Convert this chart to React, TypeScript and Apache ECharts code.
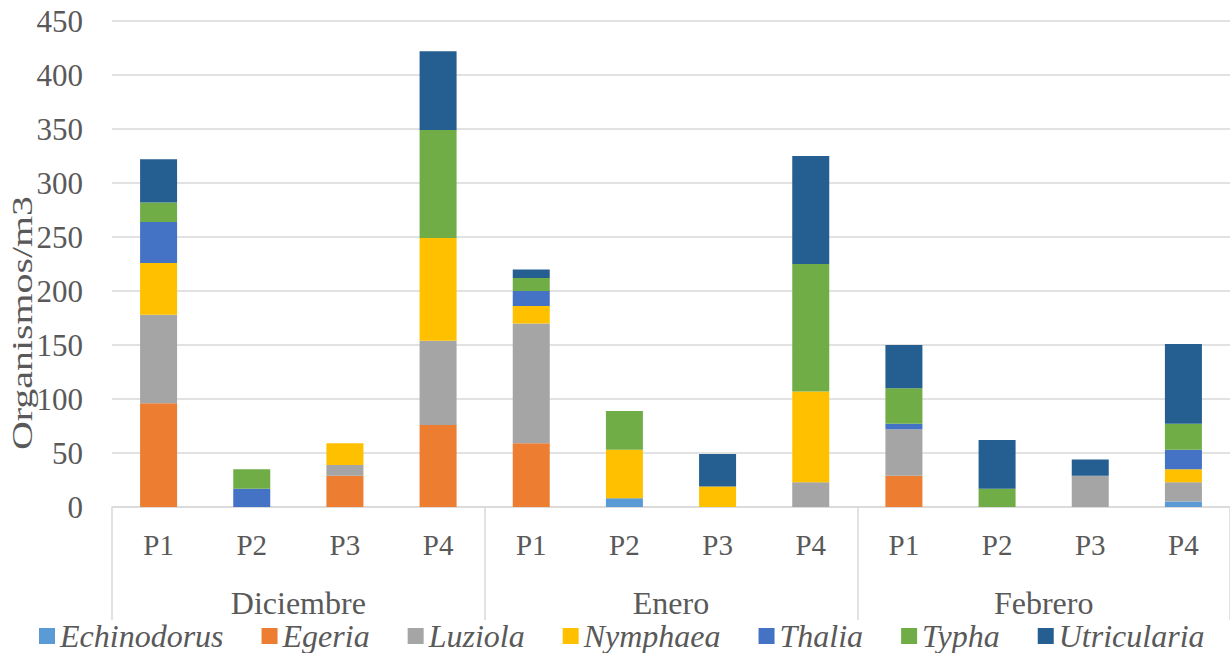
import React, { useEffect, useRef } from "react";
import * as echarts from "echarts";

const months = ["Diciembre", "Enero", "Febrero"];
const points = ["P1", "P2", "P3", "P4"];
const yTicks = { min: 0, max: 450, interval: 50 };
const yAxisTitle = "Organismos/m3";

const speciesNames = ["Echinodorus", "Egeria", "Luziola", "Nymphaea", "Thalia", "Typha", "Utricularia"];
const speciesColors = ["#5B9BD5", "#ED7D31", "#A5A5A5", "#FFC000", "#4472C4", "#70AD47", "#255E91"];

const echinodorus = [0, 0, 0, 0, 0, 8, 0, 0, 0, 0, 0, 5];
const egeria = [96, 0, 29, 76, 59, 0, 0, 0, 29, 0, 0, 0];
const luziola = [82, 0, 10, 78, 111, 0, 0, 23, 43, 0, 29, 18];
const nymphaea = [48, 0, 20, 95, 16, 45, 19, 84, 0, 0, 0, 12];
const thalia = [38, 17, 0, 0, 14, 0, 0, 0, 5, 0, 0, 18];
const typha = [18, 18, 0, 100, 12, 36, 0, 118, 33, 17, 0, 24];
const utricularia = [40, 0, 0, 73, 8, 0, 30, 100, 40, 45, 15, 74];

const seriesValues = [echinodorus, egeria, luziola, nymphaea, thalia, typha, utricularia];

const FONT = "'Liberation Serif', 'Times New Roman', serif";
const TEXT = "#595959";
const GRID_LINE = "#D9D9D9";

export default function App() {
  const ref = useRef<HTMLDivElement>(null);

  useEffect(() => {
    if (!ref.current) return;
    const chart = echarts.init(ref.current, undefined, { renderer: "svg" });

    const categoryKeys: string[] = [];
    months.forEach((m) => points.forEach((p) => categoryKeys.push(m + "|" + p)));

    const option: any = {
      animation: false,
      backgroundColor: "#ffffff",
      grid: { left: 112, right: 0, top: 21, bottom: 146, containLabel: false },
      legend: {
        data: speciesNames,
        left: 34,
        top: 613,
        itemWidth: 16,
        itemHeight: 16,
        itemGap: 38,
        icon: "rect",
        textStyle: { fontFamily: FONT, fontSize: 32, lineHeight: 36, fontStyle: "italic", color: TEXT },
      },
      xAxis: [
        {
          type: "category",
          data: categoryKeys,
          position: "bottom",
          axisLine: { show: true, lineStyle: { color: GRID_LINE, width: 1.5 } },
          axisTick: { show: false },
          axisLabel: {
            interval: 0,
            margin: 23,
            fontFamily: FONT,
            fontSize: 29,
            color: TEXT,
            formatter: (v: string) => v.split("|")[1],
          },
          splitLine: { show: false },
        },
        {
          type: "category",
          data: months,
          position: "bottom",
          axisLine: { show: false },
          axisTick: { show: true, interval: 0, length: 113, lineStyle: { color: GRID_LINE, width: 1.5 } },
          axisLabel: { interval: 0, margin: 80, fontFamily: FONT, fontSize: 32, color: TEXT },
          splitLine: { show: false },
        },
      ],
      yAxis: {
        type: "value",
        min: yTicks.min,
        max: yTicks.max,
        interval: yTicks.interval,
        axisLine: { show: false },
        axisTick: { show: false },
        axisLabel: { margin: 29, fontFamily: FONT, fontSize: 31, color: TEXT },
        splitLine: { show: true, lineStyle: { color: GRID_LINE, width: 1.5 } },
      },
      graphic: [
        {
          type: "text",
          x: 22,
          y: 323,
          rotation: Math.PI / 2,
          scaleX: 1.33,
          style: {
            text: yAxisTitle,
            fontFamily: FONT,
            fontSize: 30,
            fill: TEXT,
            align: "center",
            verticalAlign: "middle",
          },
        },
      ],
      series: speciesNames.map((name, i) => ({
        name,
        type: "bar",
        stack: "total",
        xAxisIndex: 0,
        barWidth: 37,
        itemStyle: { color: speciesColors[i] },
        data: seriesValues[i],
      })),
    };

    chart.setOption(option);
    return () => chart.dispose();
  }, []);

  return (
    <div
      ref={ref}
      style={{ position: "fixed", left: 0, top: 0, width: 1230, height: 653, background: "#fff" }}
    />
  );
}
